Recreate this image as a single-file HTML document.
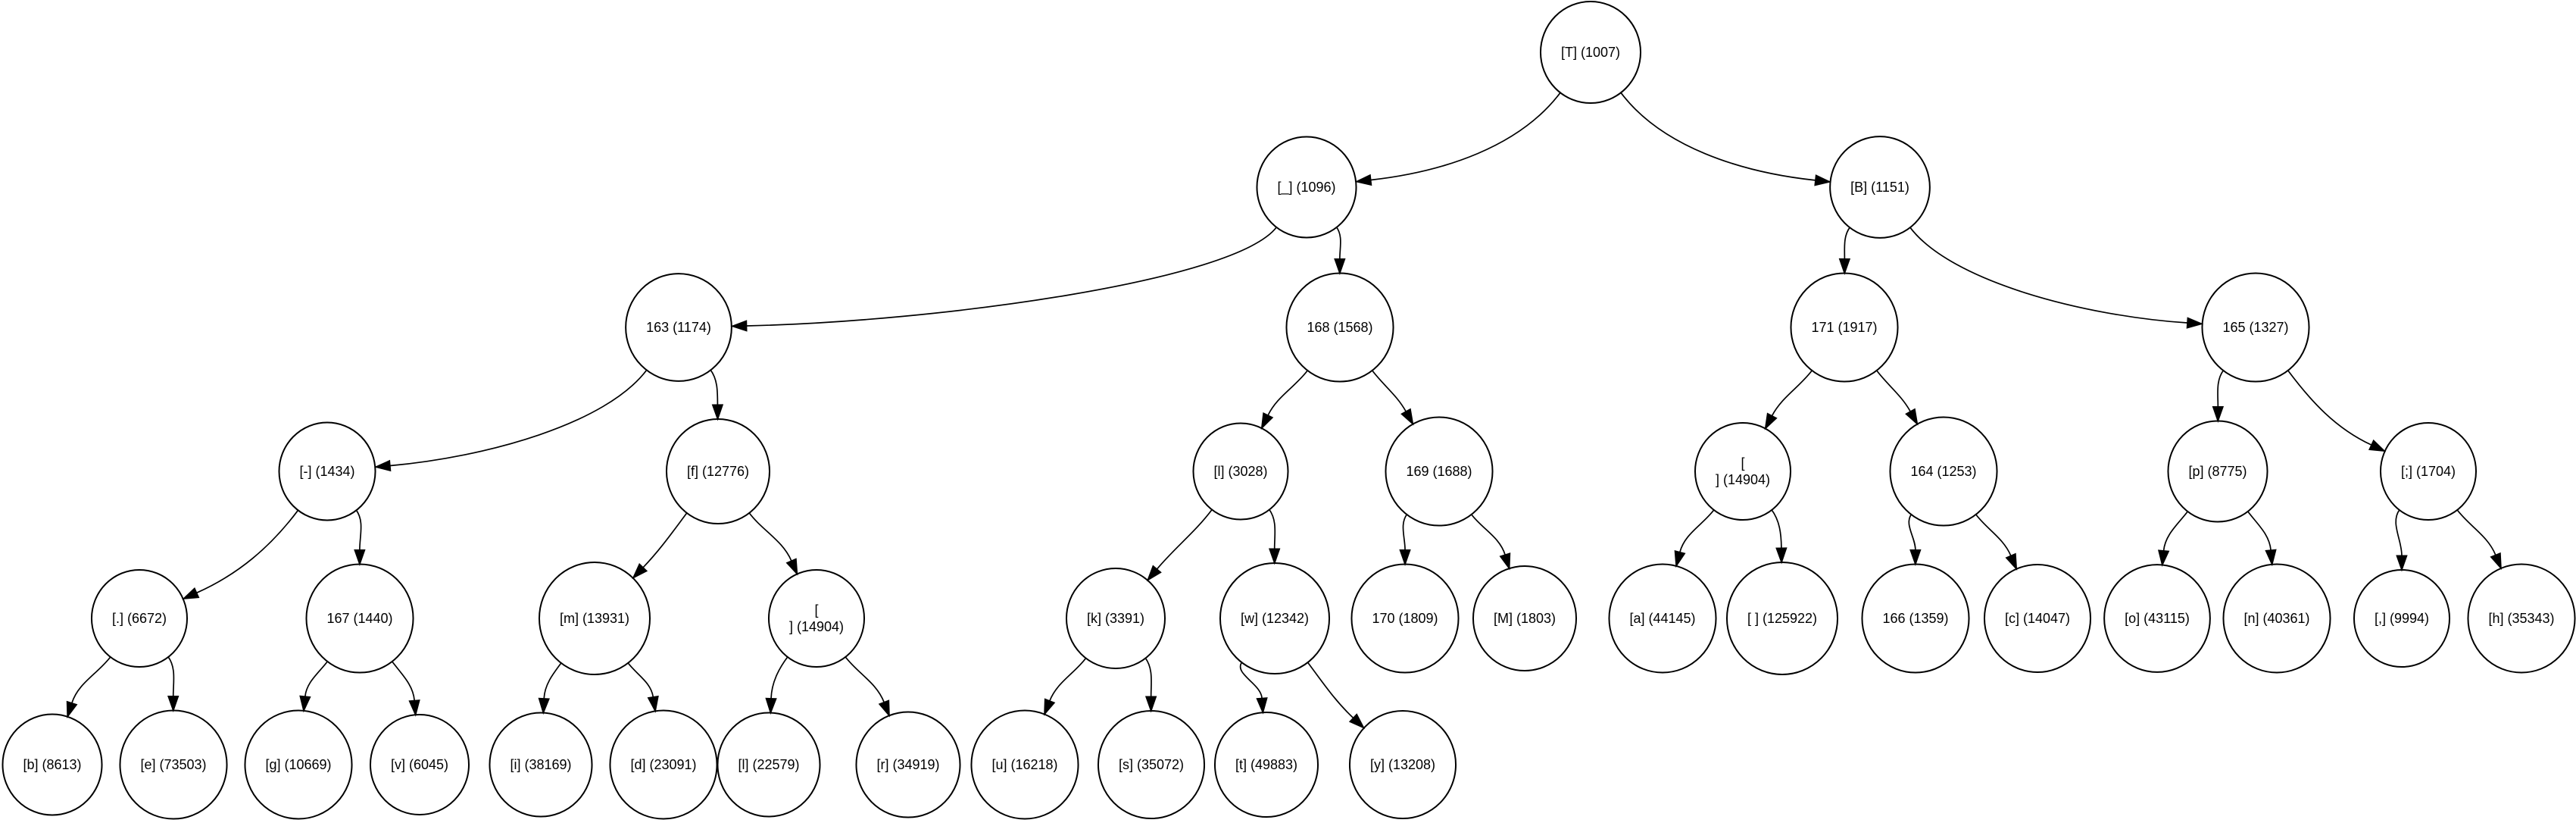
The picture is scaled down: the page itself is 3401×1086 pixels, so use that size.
<!DOCTYPE html>
<html><head><meta charset="utf-8">
<style>
html,body{margin:0;padding:0;background:#fff;}
svg{display:block;}
text{font-family:"Liberation Sans",Arial,sans-serif;font-size:18px;fill:#000;}
</style></head>
<body>
<svg id="g" width="3401" height="1086" xmlns="http://www.w3.org/2000/svg">
<rect width="3401" height="1086" fill="#fff"/>
<g id="edges"></g><g id="nodes"></g>
</svg>
<script>
const Y=[69,247,432,622,816,1009];
const N={
T:["[T] (1007)",2100,0],
U:["[_] (1096)",1725,1],B:["[B] (1151)",2482,1],
n163:["163 (1174)",896,2],n168:["168 (1568)",1769,2],n171:["171 (1917)",2435,2],n165:["165 (1327)",2978,2],
dash:["[-] (1434)",432,3],f:["[f] (12776)",948,3],l:["[l] (3028)",1638,3],n169:["169 (1688)",1900,3],nl1:["[\n] (14904)",2301,3],n164:["164 (1253)",2566,3],p:["[p] (8775)",2928,3],semi:["[;] (1704)",3206,3],
dot:["[.] (6672)",184,4],n167:["167 (1440)",475,4],m:["[m] (13931)",785,4],nl2:["[\n] (14904)",1078,4],k:["[k] (3391)",1473,4],w:["[w] (12342)",1683,4],n170:["170 (1809)",1855,4],M:["[M] (1803)",2013,4],a:["[a] (44145)",2195,4],sp:["[ ] (125922)",2353,4],n166:["166 (1359)",2529,4],c:["[c] (14047)",2690,4],o:["[o] (43115)",2848,4],n:["[n] (40361)",3006,4],comma:["[,] (9994)",3171,4],h:["[h] (35343)",3329,4],
b:["[b] (8613)",69,5],e:["[e] (73503)",229,5],g:["[g] (10669)",394,5],v:["[v] (6045)",554,5],i:["[i] (38169)",714,5],d:["[d] (23091)",876,5],l2:["[l] (22579)",1015,5],r:["[r] (34919)",1199,5],u:["[u] (16218)",1353,5],s:["[s] (35072)",1520,5],t:["[t] (49883)",1672,5],y:["[y] (13208)",1852,5]
};
const E=[["T","U"],["T","B"],["U","n163"],["U","n168"],["B","n171"],["B","n165"],
["n163","dash"],["n163","f"],["n168","l"],["n168","n169"],["n171","nl1"],["n171","n164"],["n165","p"],["n165","semi"],
["dash","dot"],["dash","n167"],["f","m"],["f","nl2"],["l","k"],["l","w"],["n169","n170"],["n169","M"],["nl1","a"],["nl1","sp"],["n164","n166"],["n164","c"],["p","o"],["p","n"],["semi","comma"],["semi","h"],
["dot","b"],["dot","e"],["n167","g"],["n167","v"],["m","i"],["m","d"],["nl2","l2"],["nl2","r"],["k","u"],["k","s"],["w","t"],["w","y"]];
const cv=document.createElement("canvas").getContext("2d");cv.font="18px 'Liberation Sans', Arial, sans-serif";
const NS="http://www.w3.org/2000/svg";
const ng=document.getElementById("nodes"),eg=document.getElementById("edges");
function el(t,a,p){const e=document.createElementNS(NS,t);for(const k in a)e.setAttribute(k,a[k]);p.appendChild(e);return e;}
for(const id in N){const [lab,x,lv]=N[id];const y=Y[lv];const lines=lab.split("\n");
 let w=Math.max(...lines.map(s=>cv.measureText(s).width));let r=Math.max(61,w/2+27);N[id].push(y,r);
 el("ellipse",{cx:x,cy:y,rx:r,ry:r+1,fill:"none",stroke:"#000","stroke-width":2},ng);
 lines.forEach((s,i)=>{const t=el("text",{x:x,y:y+6+(i-(lines.length-1)/2)*22,"text-anchor":"middle"},ng);t.textContent=s;});}
function nrm(a,b){const l=Math.hypot(a,b);return [a/l,b/l];}
for(const [pa,ch] of E){const P=N[pa],C=N[ch];const px=P[1],py=P[3],pr=P[4],cx=C[1],cy=C[3],cr=C[4];
 const dx=cx-px;
 const sd=nrm(Math.sign(dx)*0.75,1);const s0=[px+sd[0]*pr,py+sd[1]*pr];
 const dxp=cx-s0[0],dyp=(cy-cr*0.7)-s0[1];
 const rr=dxp/dyp;
 const ed2=nrm(-0.5*rr*Math.abs(rr),-1);
 const e0=[cx+ed2[0]*cr,cy+ed2[1]*cr];
 const al=20;const e1=[e0[0]+ed2[0]*al,e0[1]+ed2[1]*al];
 const L=Math.hypot(e1[0]-s0[0],e1[1]-s0[1]);
 const l1=Math.min(L*0.35,90),l2=L*0.35;
 const c1=[s0[0]+sd[0]*l1,s0[1]+sd[1]*l1];const c2=[e1[0]+ed2[0]*l2,e1[1]+ed2[1]*l2];
 el("path",{d:`M${s0[0]},${s0[1]} C${c1[0]},${c1[1]} ${c2[0]},${c2[1]} ${e1[0]},${e1[1]}`,fill:"none",stroke:"#000","stroke-width":1.7},eg);
 const nx=-ed2[1],ny=ed2[0],hw=7;
 el("polygon",{points:`${e0[0]},${e0[1]} ${e1[0]+nx*hw},${e1[1]+ny*hw} ${e1[0]-nx*hw},${e1[1]-ny*hw}`,fill:"#000",stroke:"#000","stroke-width":1},eg);
}
</script>
</body></html>
